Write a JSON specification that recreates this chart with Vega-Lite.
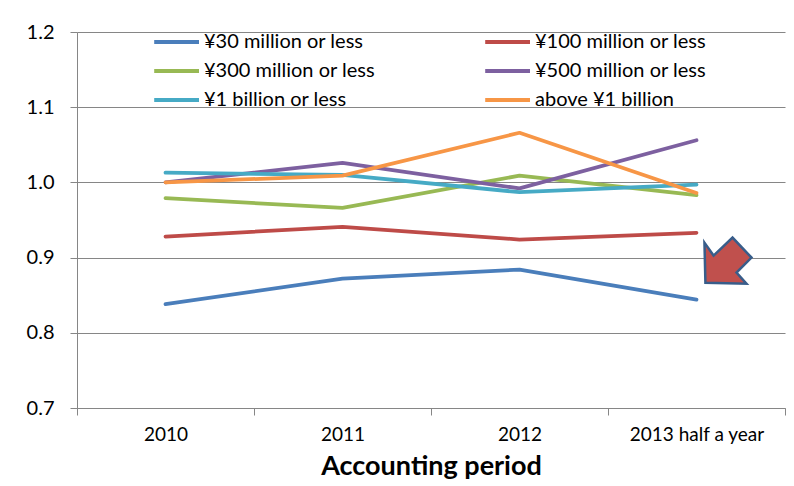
{
  "$schema": "https://vega.github.io/schema/vega-lite/v6.json",
  "width": 708,
  "height": 376,
  "autosize": {"type": "none"},
  "padding": {"left": 77, "top": 32, "right": 9, "bottom": 78},
  "background": "white",
  "config": {
    "font": "Lato",
    "view": {"stroke": null},
    "axis": {"labelFont": "Lato", "titleFont": "Lato", "labelColor": "black", "titleColor": "black"}
  },
  "datasets": {
    "series": [
      {"period": "2010", "group": "¥30 million or less", "value": 0.838},
      {"period": "2011", "group": "¥30 million or less", "value": 0.872},
      {"period": "2012", "group": "¥30 million or less", "value": 0.884},
      {"period": "2013 half a year", "group": "¥30 million or less", "value": 0.844},
      {"period": "2010", "group": "¥100 million or less", "value": 0.928},
      {"period": "2011", "group": "¥100 million or less", "value": 0.941},
      {"period": "2012", "group": "¥100 million or less", "value": 0.924},
      {"period": "2013 half a year", "group": "¥100 million or less", "value": 0.933},
      {"period": "2010", "group": "¥300 million or less", "value": 0.979},
      {"period": "2011", "group": "¥300 million or less", "value": 0.966},
      {"period": "2012", "group": "¥300 million or less", "value": 1.009},
      {"period": "2013 half a year", "group": "¥300 million or less", "value": 0.983},
      {"period": "2010", "group": "¥500 million or less", "value": 1.0},
      {"period": "2011", "group": "¥500 million or less", "value": 1.026},
      {"period": "2012", "group": "¥500 million or less", "value": 0.992},
      {"period": "2013 half a year", "group": "¥500 million or less", "value": 1.056},
      {"period": "2010", "group": "¥1 billion or less", "value": 1.013},
      {"period": "2011", "group": "¥1 billion or less", "value": 1.010},
      {"period": "2012", "group": "¥1 billion or less", "value": 0.987},
      {"period": "2013 half a year", "group": "¥1 billion or less", "value": 0.997},
      {"period": "2010", "group": "above ¥1 billion", "value": 1.0},
      {"period": "2011", "group": "above ¥1 billion", "value": 1.009},
      {"period": "2012", "group": "above ¥1 billion", "value": 1.066},
      {"period": "2013 half a year", "group": "above ¥1 billion", "value": 0.986}
    ],
    "arrow": [
      {"period": "2013 half a year", "value": 0.9}
    ]
  },
  "layer": [
    {
      "data": {"name": "series"},
      "mark": {"type": "line", "strokeWidth": 3.75, "strokeCap": "round", "strokeJoin": "round"},
      "encoding": {
        "x": {
          "field": "period", "type": "nominal",
          "sort": ["2010", "2011", "2012", "2013 half a year"],
          "scale": {"type": "band", "paddingInner": 0, "paddingOuter": 0},
          "axis": {
            "title": "Accounting period",
            "titleFontSize": 27, "titleFontWeight": "bold", "titlePadding": 9,
            "labelFontSize": 19, "labelAngle": 0, "labelPadding": 10,
            "tickBand": "extent", "tickSize": 7, "tickColor": "#868686",
            "domainColor": "#868686", "grid": false
          }
        },
        "y": {
          "field": "value", "type": "quantitative",
          "scale": {"domain": [0.7, 1.2], "nice": false, "zero": false},
          "axis": {
            "title": null,
            "values": [0.7, 0.8, 0.9, 1.0, 1.1, 1.2],
            "format": ".1f",
            "labelFontSize": 20, "labelPadding": 16,
            "tickSize": 7, "tickColor": "#868686",
            "domainColor": "#868686",
            "grid": true, "gridColor": "#868686", "gridWidth": 1.2
          }
        },
        "color": {
          "field": "group", "type": "nominal",
          "sort": ["¥30 million or less", "¥100 million or less", "¥300 million or less", "¥500 million or less", "¥1 billion or less", "above ¥1 billion"],
          "scale": {
            "domain": ["¥30 million or less", "¥100 million or less", "¥300 million or less", "¥500 million or less", "¥1 billion or less", "above ¥1 billion"],
            "range": ["#4A7EBB", "#BE4B48", "#98B954", "#7D60A0", "#46AAC5", "#F79646"]
          },
          "legend": {
            "title": null,
            "orient": "none",
            "direction": "horizontal",
            "legendX": 92,
            "legendY": -6,
            "columns": 2,
            "columnPadding": 102,
            "rowPadding": 3,
            "symbolType": "M -2.2 0 L 1 0",
            "symbolSize": 784,
            "symbolStrokeWidth": 4,
            "labelFontSize": 20,
            "labelOffset": 3,
            "labelColor": "black",
            "labelLimit": 300
          }
        }
      }
    },
    {
      "data": {"name": "arrow"},
      "mark": {
        "type": "point",
        "filled": true,
        "fill": "#C0504D",
        "stroke": "#385D8A",
        "strokeWidth": 2.5,
        "opacity": 1,
        "size": 2304,
        "xOffset": 31,
        "yOffset": 3,
        "shape": "M -0.96 -0.75 L -0.58 -0.21 L 0.21 -0.96 L 1 -0.125 L 0.375 0.5 L 0.79 0.96 L -0.92 0.92 Z"
      },
      "encoding": {
        "x": {"field": "period", "type": "nominal", "sort": ["2010", "2011", "2012", "2013 half a year"]},
        "y": {"field": "value", "type": "quantitative"}
      }
    }
  ]
}
